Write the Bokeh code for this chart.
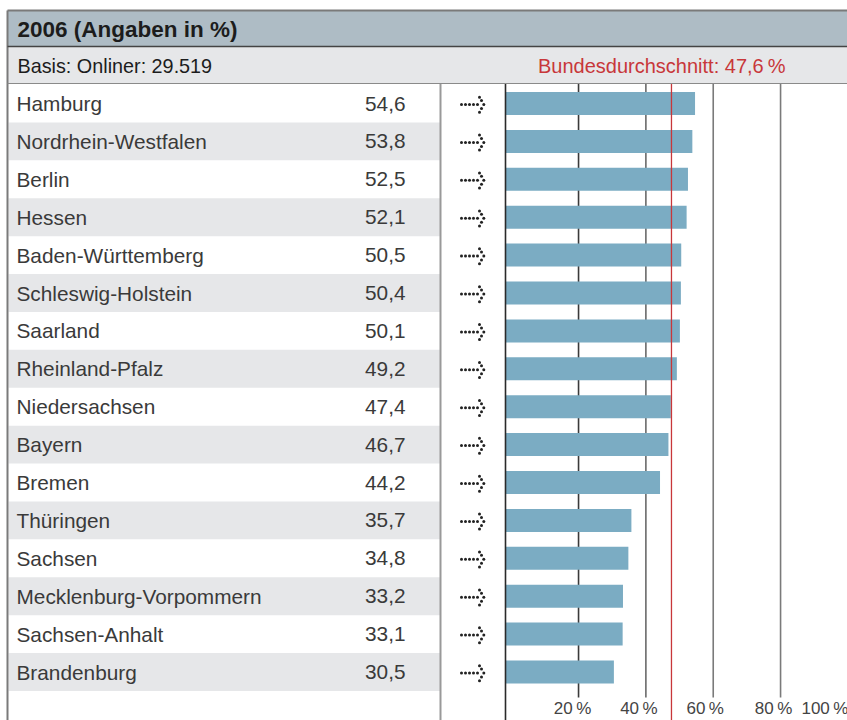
from bokeh.plotting import figure
from bokeh.models import Range1d, ColumnDataSource
from bokeh.embed import file_html
from bokeh.resources import INLINE
from bokeh.core.properties import value

# ---------------- data ----------------
title = "2006 (Angaben in %)"
basis = "Basis: Onliner: 29.519"
avg_label = "Bundesdurchschnitt"
avg_value = 47.6
states = ["Hamburg", "Nordrhein-Westfalen", "Berlin", "Hessen", "Baden-Württemberg",
          "Schleswig-Holstein", "Saarland", "Rheinland-Pfalz", "Niedersachsen", "Bayern",
          "Bremen", "Thüringen", "Sachsen", "Mecklenburg-Vorpommern", "Sachsen-Anhalt",
          "Brandenburg"]
shares = [54.6, 53.8, 52.5, 52.1, 50.5, 50.4, 50.1, 49.2, 47.4, 46.7,
          44.2, 35.7, 34.8, 33.2, 33.1, 30.5]
ticks = [20, 40, 60, 80, 100]
tick_labels = ["20\u2009%", "40\u2009%", "60\u2009%", "80\u2009%", "100\u2009%"]

def de(v):
    return f"{v:.1f}".replace(".", ",")

# ---------------- layout constants ----------------
W, H = 847, 720
FONT = "Liberation Sans"
ZERO_PX = 510.7          # pixel position of 0 %
PX_PER_PCT = 3.367
ROW0 = 103.0
ROW_H = 37.9
BAR_H = 23
AXIS_PX = 505
SEP_PX = 440

def px2pct(px):
    return (px - ZERO_PX) / PX_PER_PCT

p = figure(width=W, height=H, output_backend="svg", toolbar_location=None,
           x_range=Range1d(0, W), y_range=Range1d(H, 0),
           min_border=0, min_border_left=0, min_border_right=0,
           min_border_top=0, min_border_bottom=0)
p.extra_x_ranges = {"pct": Range1d(px2pct(0), px2pct(W))}
p.axis.visible = False
p.grid.visible = False
p.outline_line_color = None
p.background_fill_color = "white"
p.border_fill_color = "white"

n = len(states)
ys = [ROW0 + i * ROW_H for i in range(n)]

# header boxes
p.quad(left=[7], right=[W], top=[10], bottom=[46], fill_color="#AEBCC5", line_color=None)
p.quad(left=[7], right=[W], top=[46], bottom=[83], fill_color="#E6E7E9", line_color=None)

# alternating row bands
band_y = [ys[i] for i in range(n) if i % 2 == 1]
p.quad(left=[8] * len(band_y), right=[SEP_PX] * len(band_y),
       top=[y - ROW_H / 2 for y in band_y], bottom=[y + ROW_H / 2 for y in band_y],
       fill_color="#E6E7E9", line_color=None)

# grid lines (under bars)
grid_colors = ["#3a3a3a", "#6a6a6a", "#7a7a7a", "#7a7a7a"]
for t, c in zip(ticks[:-1], grid_colors):
    p.segment(x0=[t], x1=[t], y0=[83], y1=[697], x_range_name="pct",
              line_color=c, line_width=1.6)

# bars
src = ColumnDataSource(dict(y=ys, right=shares, left=[px2pct(AXIS_PX)] * n))
p.hbar(y="y", left="left", right="right", height=BAR_H, source=src,
       x_range_name="pct", fill_color="#7BACC3", line_color=None)

# separators / axis
p.segment(x0=[SEP_PX], x1=[SEP_PX], y0=[83], y1=[H], line_color="#999999", line_width=2)
p.segment(x0=[AXIS_PX], x1=[AXIS_PX], y0=[83], y1=[H], line_color="#2a2a2a", line_width=1.6)

# average line
p.segment(x0=[avg_value], x1=[avg_value], y0=[83], y1=[H], x_range_name="pct",
          line_color="#C8373A", line_width=1.3)

# frame lines
p.segment(x0=[7], x1=[7], y0=[10], y1=[H], line_color="#7a7a7a", line_width=2)
p.segment(x0=[7], x1=[W], y0=[10], y1=[10], line_color="#7a7a7a", line_width=2)
p.segment(x0=[7], x1=[W], y0=[46], y1=[46], line_color="#444444", line_width=1.5)
p.segment(x0=[7], x1=[W], y0=[83], y1=[83], line_color="#8a8a8a", line_width=1.2)

# header texts
p.text(x=[17], y=[29], text=[title], text_font=value(FONT), text_font_style="bold",
       text_font_size="22.5px", text_color="#1c1c1c", text_baseline="middle")
p.text(x=[17], y=[65], text=[basis], text_font=value(FONT),
       text_font_size="19.8px", text_color="#1c1c1c", text_baseline="middle")
p.text(x=[785], y=[65], text=[f"{avg_label}: {de(avg_value)}\u2009%"], text_font=value(FONT),
       text_font_size="20px", text_color="#C8373A", text_baseline="middle",
       text_align="right")

# row texts
p.text(x=[16] * n, y=ys, text=states, text_font=value(FONT), text_font_size="20.8px",
       text_color="#3a3a3a", text_baseline="middle")
p.text(x=[405] * n, y=ys, text=[de(v) for v in shares], text_font=value(FONT),
       text_font_size="20.8px", text_color="#3a3a3a", text_baseline="middle",
       text_align="right")

# dotted arrows
pattern = [(-22, 1), (-18, 1), (-14, 1), (-10, 1), (-6, 1),
           (-4, -6.3), (-2, -3), (0.3, 1), (-2, 5), (-4, 8.7)]
ax, ay = [], []
for y in ys:
    for dx, dy in pattern:
        ax.append(483 + dx)
        ay.append(y + dy)
p.scatter(x=ax, y=ay, marker="circle", size=3, fill_color="#222222", line_color=None)

# tick labels
offs = [-6, -7, -8, -7, -23]
for t, lab, o in zip(ticks, tick_labels, offs):
    p.text(x=[t], y=[708], text=[lab], x_range_name="pct", x_offset=o,
           text_font=value(FONT), text_font_size="17px", text_color="#444444",
           text_baseline="middle", text_align="center")

open("out.html", "w").write(file_html(p, INLINE))
